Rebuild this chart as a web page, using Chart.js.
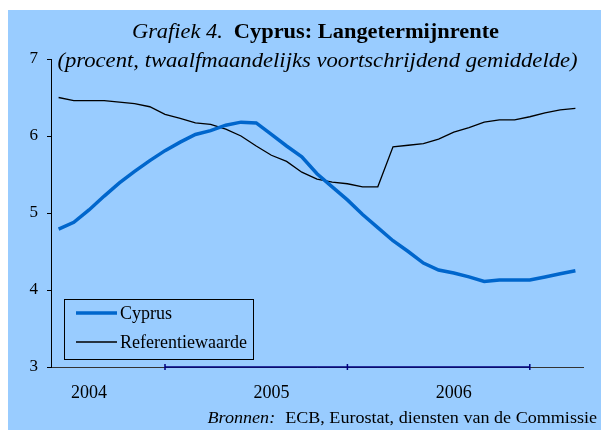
<!DOCTYPE html>
<html>
<head>
<meta charset="utf-8">
<script src="https://cdn.jsdelivr.net/npm/chart.js@4"></script>
<style>
  html, body { margin: 0; padding: 0; background: #fff; }
  #wrap { width: 601px; height: 430px; }
</style>
</head>
<body>
<div id="wrap"><canvas id="chart" width="601" height="430"></canvas></div>
<script>
// Monthly categories, only a few carry a year label
const months = ['', '', '2004', '', '', '', '', '', '', '', '', '',
                '', '', '2005', '', '', '', '', '', '', '', '', '',
                '', '', '2006', '', '', '', '', '', '', '', ''];

// Categories that get a tick mark on the x axis
const tickIndexes = [7, 19, 31];

const cyprus = [4.79, 4.88, 5.04, 5.22, 5.39, 5.54, 5.68, 5.81, 5.92, 6.02,
                6.07, 6.14, 6.18, 6.17, 6.02, 5.87, 5.73, 5.51, 5.34, 5.17,
                4.98, 4.81, 4.64, 4.50, 4.35, 4.26, 4.22, 4.17, 4.11, 4.13,
                4.13, 4.13, 4.17, 4.21, 4.25];

const referentie = [6.50, 6.46, 6.46, 6.46, 6.44, 6.42, 6.38, 6.28, 6.23, 6.17,
                    6.15, 6.09, 6.00, 5.87, 5.75, 5.67, 5.53, 5.44, 5.40, 5.38,
                    5.34, 5.34, 5.86, 5.88, 5.90, 5.96, 6.05, 6.11, 6.18, 6.21,
                    6.21, 6.25, 6.30, 6.34, 6.36];

const yTicks = [3, 4, 5, 6, 7];

const SERIF = "'Liberation Serif', 'Times New Roman', serif";
const PANEL = '#99CCFF';
const NAVY = '#000080';

// Draw a run of text pieces stretched horizontally, starting at x
function drawPieces(ctx, pieces, x, y, sx) {
    ctx.save();
    ctx.translate(x, y);
    ctx.scale(sx, 1);
    let cx = 0;
    pieces.forEach(p => {
        ctx.font = p.font;
        ctx.fillText(p.text, cx, 0);
        cx += ctx.measureText(p.text).width + (p.gap || 0) / sx;
    });
    ctx.restore();
}

function piecesWidth(ctx, pieces, sx) {
    let w = 0;
    pieces.forEach(p => {
        ctx.font = p.font;
        w += ctx.measureText(p.text).width * sx + (p.gap || 0);
    });
    return w;
}

// Background panel, titles, legend box and source line
const decorPlugin = {
    id: 'decor',
    beforeDraw(chart) {
        const ctx = chart.ctx;
        ctx.save();
        ctx.fillStyle = '#fff';
        ctx.fillRect(0, 0, chart.width, chart.height);
        ctx.fillStyle = PANEL;
        ctx.fillRect(8, 10, chart.width - 8, chart.height - 10);
        ctx.restore();
    },
    afterDraw(chart) {
        const ctx = chart.ctx;
        ctx.save();
        ctx.fillStyle = '#000';
        ctx.textBaseline = 'alphabetic';
        ctx.textAlign = 'left';

        // title line, mixed italic and bold
        const title = [
            { text: 'Grafiek 4.', font: 'italic 20px ' + SERIF, gap: 11 },
            { text: 'Cyprus: Langetermijnrente', font: 'bold 20px ' + SERIF }
        ];
        let w = piecesWidth(ctx, title, 1.12);
        drawPieces(ctx, title, 315.5 - w / 2, 37.5, 1.12);

        const sub = [{ text: '(procent, twaalfmaandelijks voortschrijdend gemiddelde)', font: 'italic 22px ' + SERIF }];
        w = piecesWidth(ctx, sub, 1.03);
        drawPieces(ctx, sub, 317.5 - w / 2, 66.5, 1.03);

        // source line, right aligned
        const src = [
            { text: 'Bronnen:', font: 'italic 16px ' + SERIF, gap: 10 },
            { text: 'ECB, Eurostat, diensten van de Commissie', font: '16px ' + SERIF }
        ];
        w = piecesWidth(ctx, src, 1.13);
        drawPieces(ctx, src, 597 - w, 422.7, 1.13);

        // navy segment of the x axis with cross ticks
        const xs = chart.scales.x;
        const yb = chart.chartArea.bottom;
        const x0 = xs.getPixelForValue(tickIndexes[0]);
        const x1 = xs.getPixelForValue(tickIndexes[tickIndexes.length - 1]);
        ctx.strokeStyle = NAVY;
        ctx.lineWidth = 1.5;
        ctx.beginPath();
        ctx.moveTo(x0, yb);
        ctx.lineTo(x1, yb);
        tickIndexes.forEach(i => {
            const tx = xs.getPixelForValue(i);
            ctx.moveTo(tx, yb - 3);
            ctx.lineTo(tx, yb + 3);
        });
        ctx.stroke();

        // legend box
        ctx.strokeStyle = '#000';
        ctx.lineWidth = 1;
        ctx.strokeRect(64.5, 299.5, 189, 60);
        ctx.font = '18px ' + SERIF;
        ctx.textBaseline = 'middle';
        chart.data.datasets.forEach((ds, i) => {
            const ly = 313 + i * 29;
            ctx.strokeStyle = ds.borderColor;
            ctx.lineWidth = ds.borderWidth;
            ctx.beginPath();
            ctx.moveTo(76, ly);
            ctx.lineTo(117, ly);
            ctx.stroke();
            ctx.fillStyle = '#000';
            ctx.fillText(ds.label, 120, ly + 1);
        });
        ctx.restore();
    }
};

new Chart(document.getElementById('chart'), {
    type: 'line',
    data: {
        labels: months,
        datasets: [{
            label: 'Cyprus',
            data: cyprus,
            borderColor: '#0066CC',
            borderWidth: 3.5,
            pointRadius: 0,
            tension: 0
        }, {
            label: 'Referentiewaarde',
            data: referentie,
            borderColor: '#000000',
            borderWidth: 1.3,
            pointRadius: 0,
            tension: 0
        }]
    },
    options: {
        responsive: false,
        animation: false,
        events: [],
        layout: {
            padding: { left: 0, right: 18, top: 59, bottom: 0 }
        },
        plugins: {
            legend: { display: false },
            title: { display: false },
            tooltip: { enabled: false }
        },
        scales: {
            x: {
                offset: true,
                afterFit(scale) { scale.height = 63; },
                border: { display: true, color: '#333', width: 1 },
                grid: {
                    offset: false,
                    drawOnChartArea: false,
                    drawTicks: false
                },
                ticks: {
                    autoSkip: false,
                    maxRotation: 0,
                    padding: 15,
                    color: '#000',
                    font: { family: SERIF, size: 18 }
                }
            },
            y: {
                min: 3,
                max: 7,
                afterFit(scale) { scale.width = 51; },
                afterBuildTicks(scale) { scale.ticks = yTicks.map(v => ({ value: v })); },
                border: { display: true, color: '#000', width: 1 },
                grid: {
                    drawOnChartArea: false,
                    drawTicks: true,
                    tickLength: 4,
                    color: '#000'
                },
                ticks: {
                    padding: 9,
                    color: '#000',
                    font: { family: SERIF, size: 17 }
                }
            }
        }
    },
    plugins: [decorPlugin]
});
</script>
</body>
</html>
